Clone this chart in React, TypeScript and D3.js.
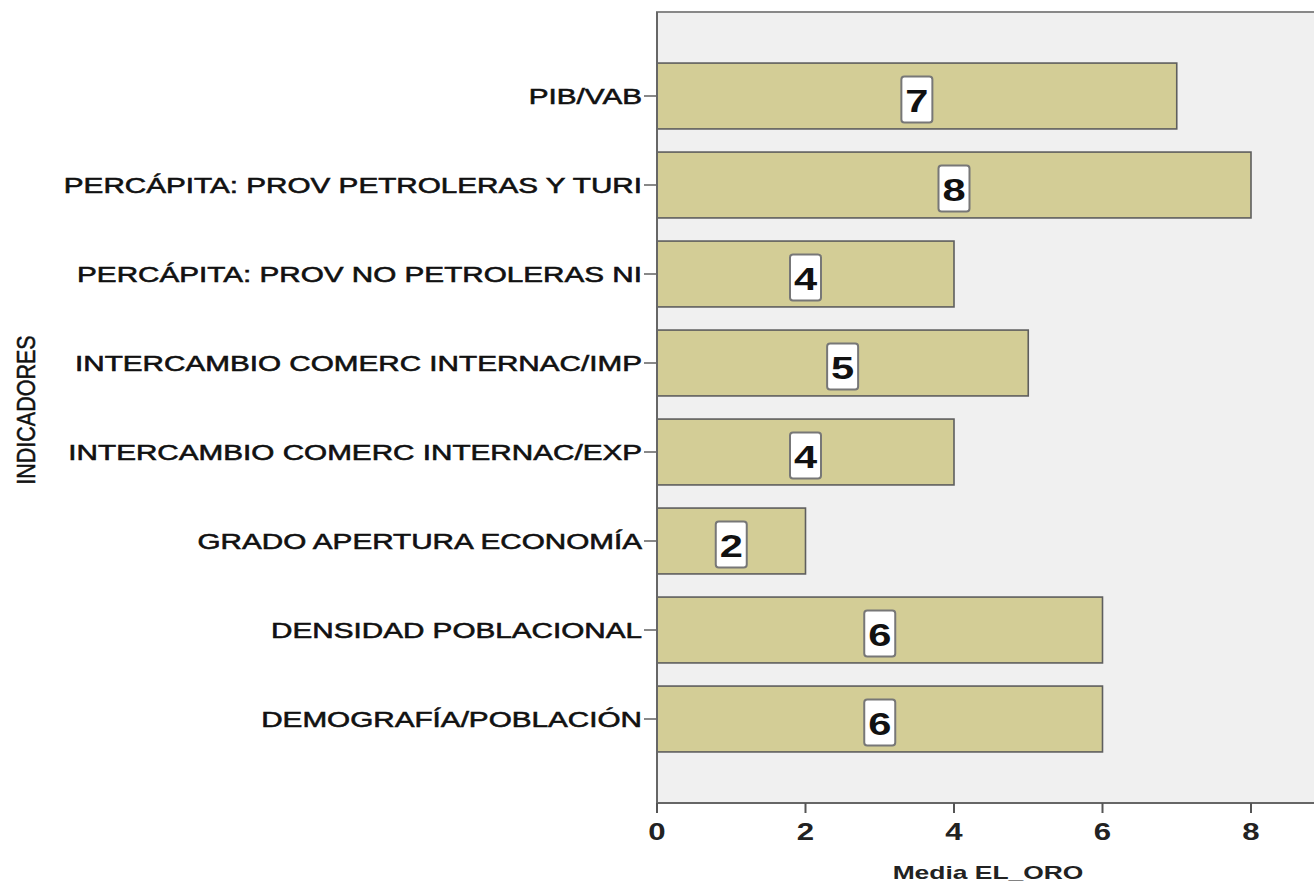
import React from "react";
import * as d3 from "d3";

const categories = [
  "PIB/VAB",
  "PERCÁPITA: PROV PETROLERAS Y TURI",
  "PERCÁPITA: PROV NO PETROLERAS NI",
  "INTERCAMBIO COMERC INTERNAC/IMP",
  "INTERCAMBIO COMERC INTERNAC/EXP",
  "GRADO APERTURA ECONOMÍA",
  "DENSIDAD POBLACIONAL",
  "DEMOGRAFÍA/POBLACIÓN",
];
const values = [7, 8, 4, 5, 4, 2, 6, 6];
const xTicks = [0, 2, 4, 6, 8];
const xTitle = "Media EL_ORO";
const yTitle = "INDICADORES";

const W = 1314;
const H = 886;
const left = 657;
const top = 12;
const bottom = 803;
const SX = 1.4;
const FONT = "'Liberation Sans', Arial, sans-serif";

export default function App() {
  const x = d3.scaleLinear().domain([0, 9]).range([left, left + 74.25 * 9]);
  const y = d3
    .scaleBand<string>()
    .domain(categories)
    .range([top + 39.5, bottom - 39.5])
    .paddingInner(0.26)
    .paddingOuter(0.13);
  const bw = y.bandwidth();

  return (
    <svg
      width={W}
      height={H}
      style={{ position: "absolute", left: 0, top: 0, background: "#fff" }}
    >
      <rect x={left} y={top} width={W - left + 20} height={bottom - top} fill="#f0f0f0" stroke="#888" strokeWidth={2} />
      {categories.map((c, i) => {
        const yc = (y(c) as number) + bw / 2;
        const xe = x(values[i]);
        const xm = x(values[i] / 2);
        return (
          <g key={c}>
            <rect x={x(0)} y={y(c)} width={xe - x(0)} height={bw} fill="#d3cd96" stroke="#5e5e5e" strokeWidth={1.6} />
            <rect x={xm - 15.5} y={yc + 3.5 - 23} width={31} height={46} rx={3} fill="#fff" stroke="#777" strokeWidth={2} />
            <text
              transform={`translate(${xm},${yc + 15.5}) scale(1.3,1)`}
              textAnchor="middle"
              fontFamily={FONT}
              fontWeight="bold"
              fontSize={32}
              fill="#111"
            >
              {values[i]}
            </text>
            <line x1={left - 13} x2={left} y1={yc} y2={yc} stroke="#888" strokeWidth={2} />
            <text
              transform={`translate(${left - 15},${yc + 7.5}) scale(${SX},1)`}
              textAnchor="end"
              fontFamily={FONT}
              fontSize={21.2}
              fill="#111"
              stroke="#111"
              strokeWidth={0.55}
            >
              {c}
            </text>
          </g>
        );
      })}
      <line x1={left} x2={left} y1={top} y2={bottom} stroke="#666" strokeWidth={2} />
      <line x1={left} x2={W} y1={bottom} y2={bottom} stroke="#666" strokeWidth={2} />
      {xTicks.map((t) => (
        <g key={t}>
          <line x1={x(t)} x2={x(t)} y1={bottom} y2={bottom + 10} stroke="#555" strokeWidth={2} />
          <text
            transform={`translate(${x(t)},${840}) scale(1.3,1)`}
            textAnchor="middle"
            fontFamily={FONT}
            fontWeight="bold"
            fontSize={24}
            fill="#222"
          >
            {t}
          </text>
        </g>
      ))}
      <text
        transform={`translate(988,879) scale(1.39,1)`}
        textAnchor="middle"
        fontFamily={FONT}
        fontWeight="bold"
        fontSize={19}
        fill="#222"
      >
        {xTitle}
      </text>
      <text
        transform={`translate(35,410) rotate(-90) scale(1.05,1.3)`}
        textAnchor="middle"
        fontFamily={FONT}
        fontSize={20.5}
        fill="#111"
        stroke="#111"
        strokeWidth={0.4}
      >
        {yTitle}
      </text>
    </svg>
  );
}
